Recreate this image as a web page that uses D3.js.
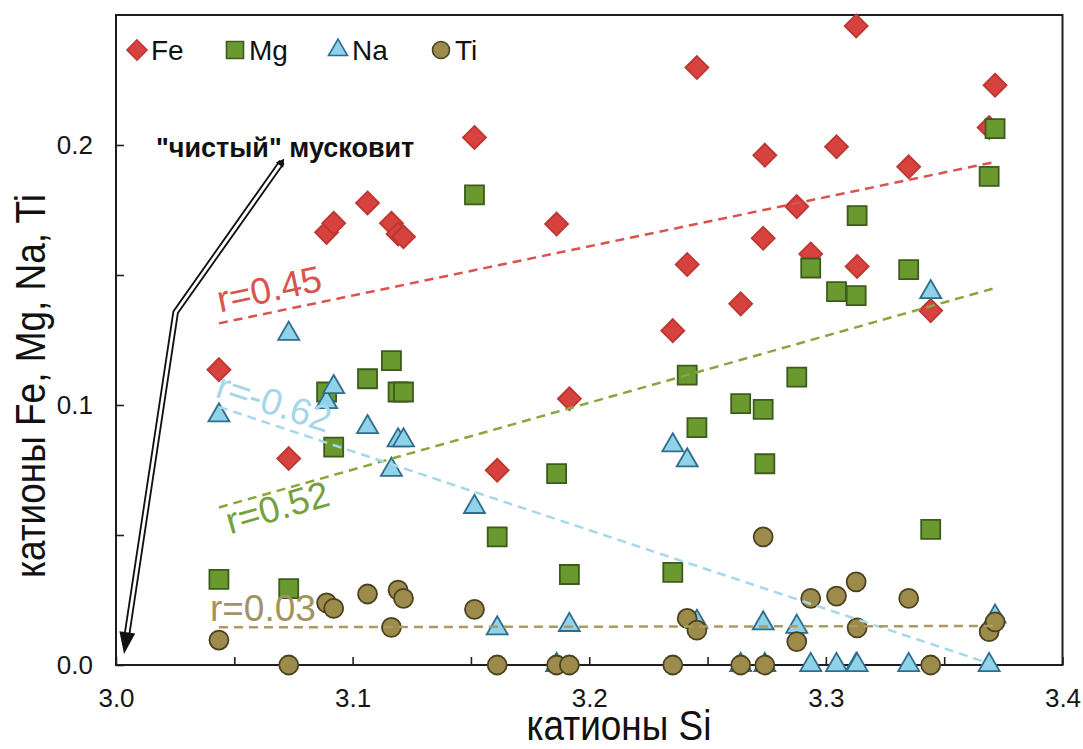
<!DOCTYPE html>
<html>
<head>
<meta charset="utf-8">
<script src="https://cdn.jsdelivr.net/npm/d3@7"></script>
<style>
  body { margin: 0; background: #fff; }
  text { font-family: "Liberation Sans", Arial, sans-serif; }
</style>
</head>
<body>
<svg id="chart" width="1083" height="749"></svg>
<script>
// Si per sample and the other cations
var si = [3.0435, 3.0730, 3.0890, 3.0920, 3.1063, 3.1164, 3.1192, 3.1215, 3.1515, 3.1611,
          3.1862, 3.1916, 3.2353, 3.2414, 3.2455, 3.2640, 3.2735, 3.2742, 3.2877, 3.2936,
          3.3045, 3.3128, 3.3132, 3.3350, 3.3443, 3.3690, 3.3715];
var fe = [0.1136, 0.0794, 0.1664, 0.1699, 0.1777, 0.1699, 0.1658, 0.1647, 0.2029, 0.0749,
          0.1696, 0.1024, 0.1286, 0.1540, 0.2298, 0.1389, 0.1641, 0.1961, 0.1763, 0.1581,
          0.1993, 0.2458, 0.1533, 0.1916, 0.1363, 0.2067, 0.2230];
var mg = [0.0329, 0.0294, 0.1050, 0.0838, 0.1101, 0.1171, 0.1050, 0.1050, 0.1808, 0.0493,
          0.0736, 0.0348, 0.0356, 0.1115, 0.0913, 0.1005, 0.0983, 0.0774, 0.1107, 0.1527,
          0.1436, 0.1421, 0.1728, 0.1521, 0.0522, 0.1879, 0.2063];
var na = [0.0960, 0.1274, 0.1011, 0.1069, 0.0915, 0.0751, 0.0864, 0.0864, 0.0608, 0.0141,
          0.0000, 0.0154, 0.0845, 0.0787, 0.0166, 0.0000, 0.0160, 0.0000, 0.0147, 0.0000,
          0.0000, 0.0000, 0.0000, 0.0000, 0.1434, 0.0000, 0.0186];
var ti = [0.0096, 0.0000, 0.0239, 0.0218, 0.0273, 0.0145, 0.0288, 0.0256, 0.0214, 0.0000,
          0.0000, 0.0000, 0.0000, 0.0179, 0.0134, 0.0000, 0.0493, 0.0000, 0.0090, 0.0256,
          0.0265, 0.0320, 0.0143, 0.0256, 0.0000, 0.0128, 0.0166];

// trend lines (start and end)
var trendFe = [[3.0435, 0.1314], [3.3715, 0.1935]];
var trendMg = [[3.0435, 0.0606], [3.3715, 0.1450]];
var trendNa = [[3.0435, 0.0993], [3.3695, 0.0005]];
var trendTi = [[3.0435, 0.0145], [3.3715, 0.0150]];

var seriesNames = ["Fe", "Mg", "Na", "Ti"];
var rLabels = ["r=0.45", "r=0.52", "r=-0.62", "r=0.03"];
var xTickLabels = ["3.0", "3.1", "3.2", "3.3", "3.4"];
var yTickLabels = ["0.0", "0.1", "0.2"];
var arrowPts = [[3.0701, 0.1935], [3.0252, 0.1357], [3.0034, 0.0042]];

var w = 1083, h = 749;
var svg = d3.select("#chart");

var x = d3.scaleLinear().domain([3.0, 3.4]).range([116, 1062.5]);
var y = d3.scaleLinear().domain([0, 0.25]).range([665, 15]);

// axes: ticks every 0.05 pointing inside, labels every 0.1
var xTicks = d3.range(0, 9).map(i => 3.0 + i * 0.05);
var yTicks = d3.range(0, 5).map(i => i * 0.05);

var gx = svg.append("g")
    .attr("transform", "translate(0," + y(0) + ")")
    .call(d3.axisBottom(x).tickValues(xTicks).tickSize(-8).tickPadding(24)
          .tickFormat((d, i) => i % 2 === 0 ? xTickLabels[i / 2] : ""));
var gy = svg.append("g")
    .attr("transform", "translate(" + x(3.0) + ",0)")
    .call(d3.axisLeft(y).tickValues(yTicks).tickSize(-8).tickPadding(23)
          .tickFormat((d, i) => i % 2 === 0 ? yTickLabels[i / 2] : ""));
[gx, gy].forEach(function(g) {
    g.select(".domain").remove();
    g.selectAll(".tick line").attr("stroke", "#222").attr("stroke-width", 1.6);
    g.selectAll(".tick text").attr("font-size", 26).attr("fill", "#151515")
        .attr("font-family", "Liberation Sans, Arial, sans-serif");
});

// frame
svg.append("rect")
    .attr("x", x(3.0)).attr("y", y(0.25))
    .attr("width", x(3.4) - x(3.0)).attr("height", y(0) - y(0.25))
    .attr("fill", "none").attr("stroke", "#1e1e1e").attr("stroke-width", 2);

// axis titles (slightly condensed face)
svg.append("text")
    .attr("transform", "translate(619,740) scale(0.88,1)")
    .attr("text-anchor", "middle").attr("font-size", 42).attr("fill", "#111")
    .text("катионы Si");
svg.append("text")
    .attr("transform", "translate(45,386) rotate(-90) scale(0.88,1)")
    .attr("text-anchor", "middle").attr("font-size", 42).attr("fill", "#111")
    .text("катионы Fe, Mg, Na, Ti");

// markers
var diamond = function(r) { return "M0," + (-r) + "L" + r + ",0L0," + r + "L" + (-r) + ",0Z"; };
var square = function(s) { return "M" + (-s / 2) + "," + (-s / 2) + "h" + s + "v" + s + "h" + (-s) + "Z"; };
var tri = function(wd) {
    var k = wd / (2 * Math.sqrt(3));
    return "M0," + (-2 * k) + "L" + (wd / 2) + "," + k + "L" + (-wd / 2) + "," + k + "Z";
};
var circ = d3.symbol().type(d3.symbolCircle);

var styles = [
    { vals: fe, d: diamond(11.5), fill: "#d7423e", stroke: "#bd3632" },
    { vals: mg, d: square(19), fill: "#6a9a2f", stroke: "#3d5b1b" },
    { vals: na, d: tri(21), fill: "#90d2e9", stroke: "#2e6e8b" },
    { vals: ti, d: circ.size(Math.PI * 9.5 * 9.5)(), fill: "#9d8b4b", stroke: "#4a4220" }
];

styles.forEach(function(s) {
    svg.append("g").selectAll("path")
        .data(si)
        .join("path")
        .attr("d", s.d)
        .attr("transform", (d, i) => "translate(" + x(d) + "," + y(s.vals[i]) + ")")
        .attr("fill", s.fill)
        .attr("stroke", s.stroke)
        .attr("stroke-width", 1.8);
});

// trend lines
var line = d3.line().x(d => x(d[0])).y(d => y(d[1]));
var trends = [
    { pts: trendFe, color: "#d9534f" },
    { pts: trendMg, color: "#8ba53f" },
    { pts: trendNa, color: "#a7d7ea" },
    { pts: trendTi, color: "#ad9a60" }
];
trends.forEach(function(t) {
    svg.append("path")
        .datum(t.pts)
        .attr("d", line)
        .attr("fill", "none")
        .attr("stroke", t.color)
        .attr("stroke-width", 2.5)
        .attr("stroke-dasharray", "9,6");
});

// r labels
var rPos = [
    { x: 3.0440, y: 0.1356, rot: -12, color: "#d9534f" },
    { x: 3.0482, y: 0.0503, rot: -16, color: "#76a03a" },
    { x: 3.0414, y: 0.1033, rot: 18, color: "#a6d6ea" },
    { x: 3.0397, y: 0.0169, rot: 0, color: "#a3935f" }
];
rLabels.forEach(function(lbl, i) {
    var p = rPos[i];
    svg.append("text")
        .attr("transform", "translate(" + x(p.x) + "," + y(p.y) + ") rotate(" + p.rot + ")")
        .attr("font-size", 37)
        .attr("fill", p.color)
        .text(lbl);
});

// "pure muscovite" arrow: double line with a filled head
var ap = arrowPts.map(d => [x(d[0]), y(d[1])]);
var tip = ap[2], bend = ap[1], top0 = ap[0];
var dx = tip[0] - bend[0], dy = tip[1] - bend[1];
var len = Math.sqrt(dx * dx + dy * dy);
var ux = dx / len, uy = dy / len;
var headLen = 22, headW = 8;
var base = [tip[0] - ux * headLen, tip[1] - uy * headLen];
var shaft = [top0, bend, [base[0] + ux * 2, base[1] + uy * 2]];
var pline = d3.line();
svg.append("path").attr("d", pline(shaft)).attr("fill", "none")
    .attr("stroke", "#111").attr("stroke-width", 6.5).attr("stroke-linejoin", "miter");
svg.append("path").attr("d", pline(shaft)).attr("fill", "none")
    .attr("stroke", "#fff").attr("stroke-width", 2.8).attr("stroke-linejoin", "miter");
svg.append("path")
    .attr("d", pline([tip,
        [base[0] - uy * headW, base[1] + ux * headW],
        [base[0] + uy * headW, base[1] - ux * headW]]) + "Z")
    .attr("fill", "#111");
// small cap at the upper end
var tx = top0[0] - bend[0], ty = top0[1] - bend[1];
var tl = Math.sqrt(tx * tx + ty * ty);
tx /= tl; ty /= tl;
var capTip = [top0[0] + tx * 4, top0[1] + ty * 4];
var capBase = [top0[0] - tx * 4, top0[1] - ty * 4];
svg.append("path")
    .attr("d", pline([capTip,
        [capBase[0] - ty * 4.5, capBase[1] + tx * 4.5],
        [capBase[0] + ty * 4.5, capBase[1] - tx * 4.5]]) + "Z")
    .attr("fill", "#111");

svg.append("text")
    .attr("x", 156).attr("y", 157)
    .attr("font-size", 27).attr("font-weight", "bold").attr("fill", "#111")
    .text("\"чистый\" мусковит");

// legend
var legendX = [137, 235, 338, 441];
var legendMarks = [diamond(10), square(17), tri(19), circ.size(Math.PI * 8.5 * 8.5)()];
seriesNames.forEach(function(name, i) {
    var g = svg.append("g").attr("transform", "translate(" + legendX[i] + ",50)");
    g.append("path").attr("d", legendMarks[i])
        .attr("fill", styles[i].fill).attr("stroke", styles[i].stroke).attr("stroke-width", 1.6);
    g.append("text").attr("x", 14).attr("y", 10)
        .attr("font-size", 28).attr("fill", "#111").text(name);
});
</script>
</body>
</html>
